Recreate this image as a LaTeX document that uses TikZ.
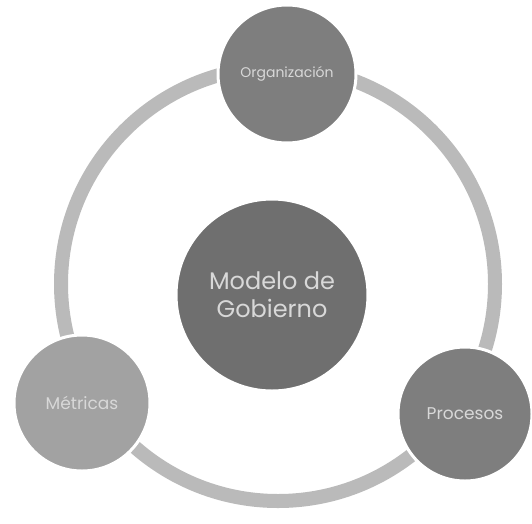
\documentclass[tikz,border=0pt]{standalone}
\usepackage{fontspec}
\setmainfont{Poppins}
\definecolor{ringgray}{HTML}{BABABA}
\definecolor{balldark}{HTML}{6F6F6F}
\definecolor{ballmid}{HTML}{7E7E7E}
\definecolor{balllight}{HTML}{A2A2A2}
\definecolor{txtlight}{HTML}{D8D8D8}
\begin{document}
\begin{tikzpicture}[x=1pt,y=-1pt,
  ball/.style={circle, draw=white, line width=3pt, inner sep=0pt, text=txtlight, align=center},
  ringline/.style={draw=ringgray, line width=14pt}]
\useasboundingbox[fill=white] (0,0) rectangle (532,523);
\coordinate (rc) at (278,284);
\draw[ringline] (rc) circle[radius=217];
\node[ball, fill=balldark, minimum size=192pt, font=\fontsize{24}{28}\selectfont] (center) at (272,295) {Modelo de\\Gobierno};
\node[ball, fill=ballmid, minimum size=138pt, font=\fontsize{14}{16}\selectfont] (org) at (287,74) {Organización};
\node[ball, fill=balllight, minimum size=136pt, font=\fontsize{17}{20}\selectfont] (met) at (82,403) {Métricas};
\node[ball, fill=ballmid, minimum size=134pt, font=\fontsize{17}{20}\selectfont] (pro) at (465,414) {Procesos};
\end{tikzpicture}
\end{document}
